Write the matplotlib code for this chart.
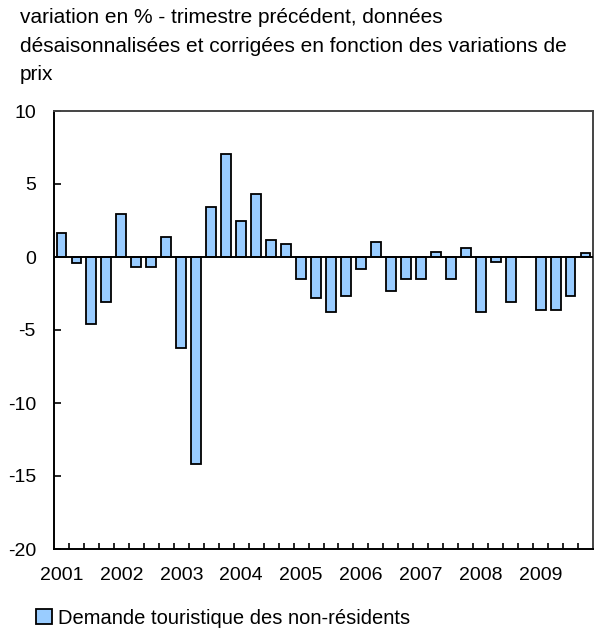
import numpy as np
import matplotlib.pyplot as plt

plt.rcParams["font.family"] = ["Liberation Sans", "DejaVu Sans"]

annees = ["2001", "2002", "2003", "2004", "2005", "2006", "2007", "2008", "2009"]
variation = [1.65, -0.4, -4.6, -3.1,
             2.95, -0.7, -0.7, 1.4,
             -6.2, -14.2, 3.4, 7.05,
             2.5, 4.3, 1.15, 0.9,
             -1.5, -2.8, -3.8, -2.7,
             -0.8, 1.0, -2.3, -1.5,
             -1.5, 0.35, -1.5, 0.6,
             -3.8, -0.35, -3.1, 0.0,
             -3.6, -3.6, -2.65, 0.25]
serie = "Demande touristique des non-résidents"
titre = ("variation en % - trimestre précédent, données\n"
         "désaisonnalisées et corrigées en fonction des variations de\n"
         "prix")

fig = plt.figure(figsize=(5.94, 6.32), dpi=100)
ax = fig.add_axes([54 / 594, 83 / 632, 539 / 594, 438 / 632])

x = np.arange(len(variation))
barres = ax.bar(x, variation, width=0.66, color="#99ccff", edgecolor="black",
                linewidth=1.3, label=serie, zorder=2)
ax.axhline(0, color="black", linewidth=1.4, zorder=3)

ax.set_xlim(-0.5, len(variation) - 0.5)
ax.set_ylim(-20, 10)
ax.set_yticks([-20, -15, -10, -5, 0, 5, 10])
ax.set_yticklabels(["-20", "-15", "-10", "-5", "0", "5", "10"], fontsize=14)
ax.tick_params(axis="y", direction="in", length=5, width=1.2, pad=13)

ax.set_xticks(np.arange(0, len(variation), 4))
ax.set_xticklabels(annees, fontsize=14)
ax.set_xticks(np.arange(0.5, len(variation) - 1, 1), minor=True)
ax.tick_params(axis="x", which="major", length=0, pad=13)
ax.tick_params(axis="x", which="minor", direction="in", length=4, width=1.2)

for s in ax.spines.values():
    s.set_linewidth(1.4)
    s.set_color("black")
ax.spines["top"].set_color("#444444")
ax.spines["right"].set_color("#444444")

fig.text(20 / 594, 1 - 8 / 632, titre, fontsize=15, va="top", ha="left",
         linespacing=1.65)

fig.legend(handles=[barres], labels=[serie], loc="center left",
           bbox_to_anchor=(36 / 594, 1 - 618 / 632), frameon=False,
           fontsize=14.5, handlelength=0.8, handleheight=0.8,
           handletextpad=0.3, borderaxespad=0, borderpad=0)

fig.savefig("out.png", dpi=100)
